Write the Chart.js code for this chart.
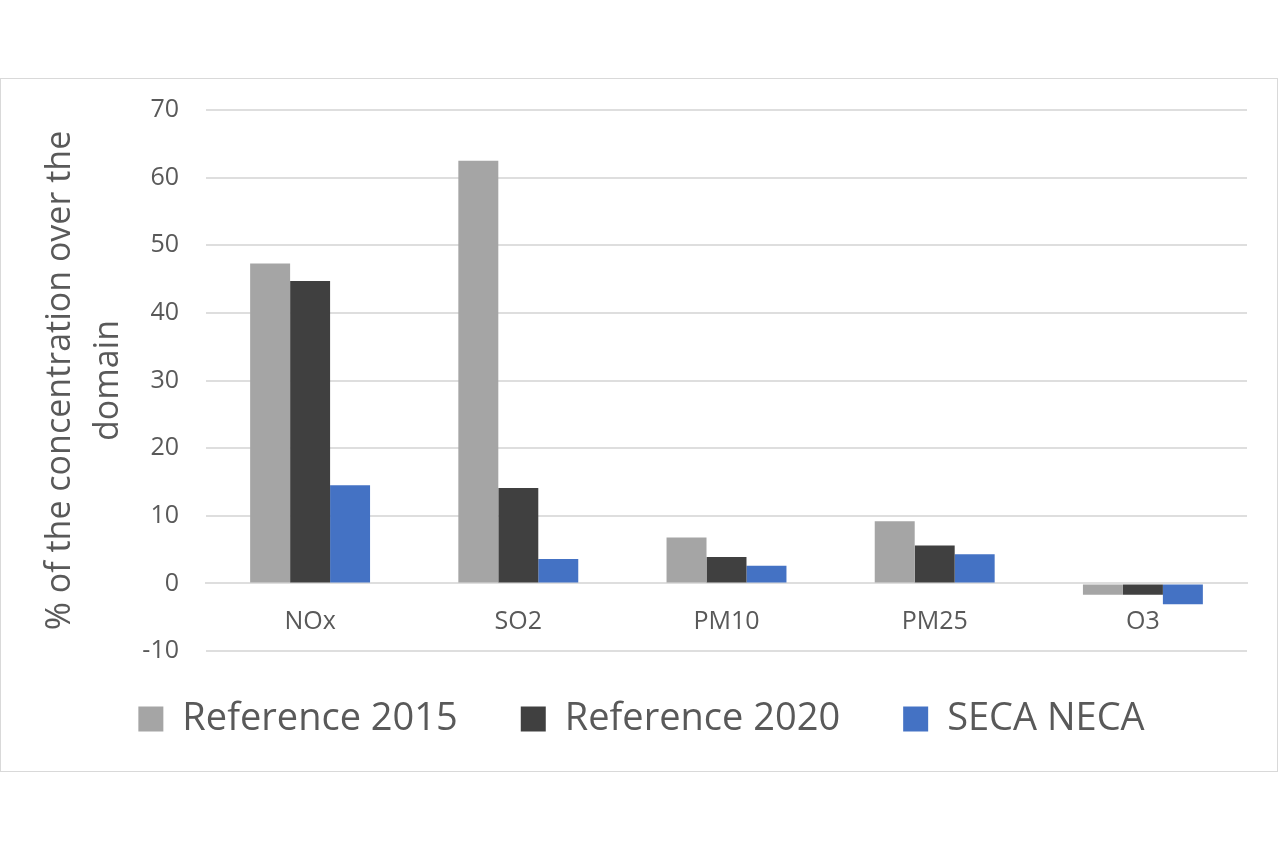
<!DOCTYPE html>
<html>
<head>
<meta charset="utf-8">
<script src="https://cdn.jsdelivr.net/npm/chart.js@4/dist/chart.umd.min.js"></script>
<style>
  body { margin: 0; background: #fff; }
  #box {
    position: absolute; left: 0; top: 78px;
    width: 1276px; height: 692px;
    border: 1px solid #d9d9d9;
  }
</style>
</head>
<body>
<div id="box"><canvas id="chart"></canvas></div>
<script>
const pollutants = ['NOx', 'SO2', 'PM10', 'PM25', 'O3'];
const reference2015 = [47.3, 62.5, 6.8, 9.2, -1.7];
const reference2020 = [44.7, 14.1, 3.9, 5.6, -1.7];
const secaNeca = [14.5, 3.6, 2.6, 4.3, -3.1];
const yTicks = [-10, 0, 10, 20, 30, 40, 50, 60, 70];

const textColor = '#595959';
const gridColor = '#dedede';
const fontFamily = '"Open Sans", sans-serif';

// pull the legend row up a bit, closer to the plot
const legendShift = {
  id: 'legendShift',
  afterLayout(chart) {
    chart.legend.top -= 14;
    chart.legend.bottom -= 14;
  }
};

const ctx = document.getElementById('chart').getContext('2d');
new Chart(ctx, {
  type: 'bar',
  data: {
    labels: pollutants,
    datasets: [
      { label: 'Reference 2015', data: reference2015, backgroundColor: '#a5a5a5' },
      { label: 'Reference 2020', data: reference2020, backgroundColor: '#404040' },
      { label: 'SECA NECA', data: secaNeca, backgroundColor: '#4472c4' }
    ]
  },
  plugins: [legendShift],
  options: {
    responsive: true,
    maintainAspectRatio: false,
    animation: false,
    datasets: { bar: { categoryPercentage: 0.576, barPercentage: 1 } },
    layout: { padding: { left: 35, right: 30, top: 31, bottom: 9 } },
    plugins: {
      tooltip: { enabled: false },
      legend: {
        position: 'bottom',
        labels: {
          color: textColor,
          font: { family: fontFamily, size: 38 },
          boxWidth: 25,
          boxHeight: 25,
          padding: 63
        }
      }
    },
    scales: {
      x: {
        position: { y: 0 },
        grid: { display: false, drawTicks: false },
        border: { display: true, color: gridColor, width: 2 },
        ticks: { color: textColor, font: { family: fontFamily, size: 25 }, padding: 23 }
      },
      y: {
        min: yTicks[0],
        max: yTicks[yTicks.length - 1],
        afterBuildTicks: axis => { axis.ticks = yTicks.map(v => ({ value: v })); },
        afterFit: axis => {
          axis.width = 170;
          axis.paddingTop = 15;
          axis.paddingBottom = 15;
        },
        grid: { color: gridColor, lineWidth: 2, drawTicks: false },
        border: { display: false },
        ticks: { color: textColor, font: { family: fontFamily, size: 25 }, padding: 27 },
        title: {
          display: true,
          text: ['% of the concentration over the', 'domain'],
          color: textColor,
          font: { family: fontFamily, size: 34, lineHeight: 1.41 },
          padding: { top: 0, bottom: 0 }
        }
      }
    }
  }
});
</script>
</body>
</html>
